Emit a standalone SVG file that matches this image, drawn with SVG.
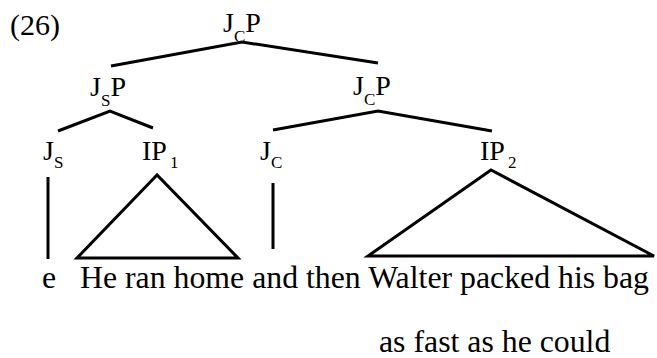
<svg xmlns="http://www.w3.org/2000/svg" width="657" height="358" viewBox="0 0 657 358">
  <style>
    text { font-family: "Liberation Serif", "Times New Roman", serif; fill: #000; }
    .lab { font-size: 28px; }
    .num { font-size: 30px; }
    .sub { font-size: 17px; }
    .word { font-size: 31.8px; }
    .edge { stroke: #000; stroke-width: 3; fill: none; stroke-linejoin: miter; }
  </style>
  <rect width="657" height="358" fill="#fff"/>
  <text class="num" x="10" y="35">(26)</text>

  <g id="jcp-root"><text class="lab" x="223" y="32">J<tspan class="sub" dy="10">C</tspan><tspan dy="-10">P</tspan></text></g>
  <g id="jsp"><text class="lab" x="90" y="96">J<tspan class="sub" dy="10">S</tspan><tspan dy="-10">P</tspan></text></g>
  <g id="jcp"><text class="lab" x="353" y="95">J<tspan class="sub" dy="10">C</tspan><tspan dy="-10">P</tspan></text></g>
  <g id="js"><text class="lab" x="43" y="160">J<tspan class="sub" dy="8">S</tspan></text></g>
  <g id="ip1"><text class="lab" x="142" y="160">IP<tspan class="sub" dx="3" dy="8">1</tspan></text></g>
  <g id="jc"><text class="lab" x="260" y="160">J<tspan class="sub" dy="8">C</tspan></text></g>
  <g id="ip2"><text class="lab" x="480" y="160">IP<tspan class="sub" dx="3" dy="8">2</tspan></text></g>

  <g id="leaves">
    <text class="word" x="42" y="288">e</text>
    <text class="word" x="80" y="288">He ran home and then Walter packed his bag</text>
    <text class="word" x="379" y="352">as fast as he could</text>
  </g>

  <g id="connectors" class="edge">
    <polyline points="111,66 242,42 378,63"/>
    <polyline points="58,131 110,111 153,128"/>
    <polyline points="273,130 378,111 492,131"/>
    <line x1="48" y1="177" x2="48" y2="259"/>
    <line x1="273" y1="183" x2="273" y2="249"/>
    <polygon points="157,175 77,258 238,258"/>
    <polygon points="491,170 368,256 654,256"/>
  </g>
</svg>
